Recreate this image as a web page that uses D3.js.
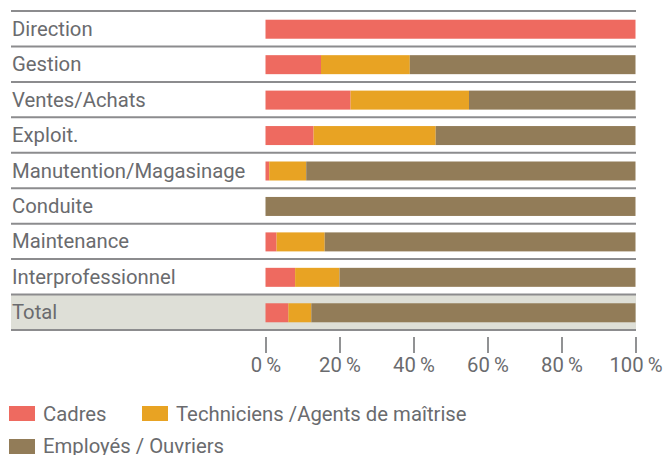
<!DOCTYPE html>
<html><head><meta charset="utf-8">
<script src="https://cdn.jsdelivr.net/npm/d3@7"></script>
<style>
html,body{margin:0;padding:0;background:#fff;}
svg text{font-family:Roboto,"Noto Sans",sans-serif;fill:#6a6b6e;}
</style></head>
<body><svg id="c" width="663" height="455"></svg>
<script>
const categories = ["Direction","Gestion","Ventes/Achats","Exploit.","Manutention/Magasinage","Conduite","Maintenance","Interprofessionnel","Total"];
const cadres      = [100, 15, 23, 13, 1, 0, 3, 8, 6.2];
const techniciens = [0, 24, 32, 33, 10, 0, 13, 12, 6.2];
const employes    = [0, 61, 45, 54, 89, 100, 84, 80, 87.6];
const seriesNames = ["Cadres","Techniciens /Agents de maîtrise","Employés / Ouvriers"];
const seriesColors = ["#ee6a60","#e8a323","#927c58"];
const tickValues = [0,20,40,60,80,100];

const svg = d3.select("#c");
const left = 11, right = 636;
const x = d3.scaleLinear().domain([0,100]).range([265.5, 635.5]);
const y = d3.scaleBand().domain(categories).range([11, 330]);
const barH = 19;
const fs = 20.3;

const data = categories.map((c,i)=>({cat:c, Cadres:cadres[i], Tech:techniciens[i], Emp:employes[i]}));
const stack = d3.stack().keys(["Cadres","Tech","Emp"])(data);

// Total background
svg.append("rect").attr("x", left).attr("y", y("Total")).attr("width", right-left).attr("height", y.bandwidth()).attr("fill","#dedfd7");

// separators
const lines = categories.map(c=>y(c)).concat([y.range()[1]]);
svg.selectAll("line.sep").data(lines).join("line").attr("class","sep")
  .attr("x1", left).attr("x2", right).attr("y1", d=>d).attr("y2", d=>d)
  .attr("stroke","#8c8c8e").attr("stroke-width",2);

// bars
svg.selectAll("g.s").data(stack).join("g").attr("class","s")
  .attr("fill",(d,i)=>seriesColors[i])
  .selectAll("rect").data(d=>d.filter(e=>e[1]-e[0]>0)).join("rect")
  .attr("x", d=>x(d[0])).attr("width", d=>x(d[1])-x(d[0]))
  .attr("y", d=>y(d.data.cat) + (y.bandwidth()-barH)/2 + 0.5).attr("height", barH);

// category labels
svg.selectAll("text.cat").data(categories).join("text").attr("class","cat")
  .attr("x", 12).attr("y", d=>y(d)+y.bandwidth()/2+7).attr("font-size", fs).text(d=>d);

// axis
const ax = svg.append("g").attr("transform","translate(0,337)")
  .call(d3.axisBottom(x).tickValues(tickValues).tickSize(16).tickFormat(d=>d+"\u2009%"));
ax.select(".domain").remove();
ax.selectAll(".tick line").attr("stroke","#6d6e71").attr("stroke-width",1.5);
ax.selectAll(".tick text").attr("font-size", fs).attr("dy",0).attr("y",35).attr("fill","#6a6b6e");

// legend
const leg = [{i:0,x:9,y:406,ty:14.5},{i:1,x:142,y:406,ty:14.5},{i:2,x:9,y:439,ty:13.5}];
const lg = svg.selectAll("g.lg").data(leg).join("g").attr("class","lg").attr("transform",d=>`translate(${d.x},${d.y})`);
lg.append("rect").attr("width",26).attr("height",15).attr("fill",d=>seriesColors[d.i]);
lg.append("text").attr("x",34).attr("y",d=>d.ty).attr("font-size",fs).text(d=>seriesNames[d.i]);
</script></body></html>
